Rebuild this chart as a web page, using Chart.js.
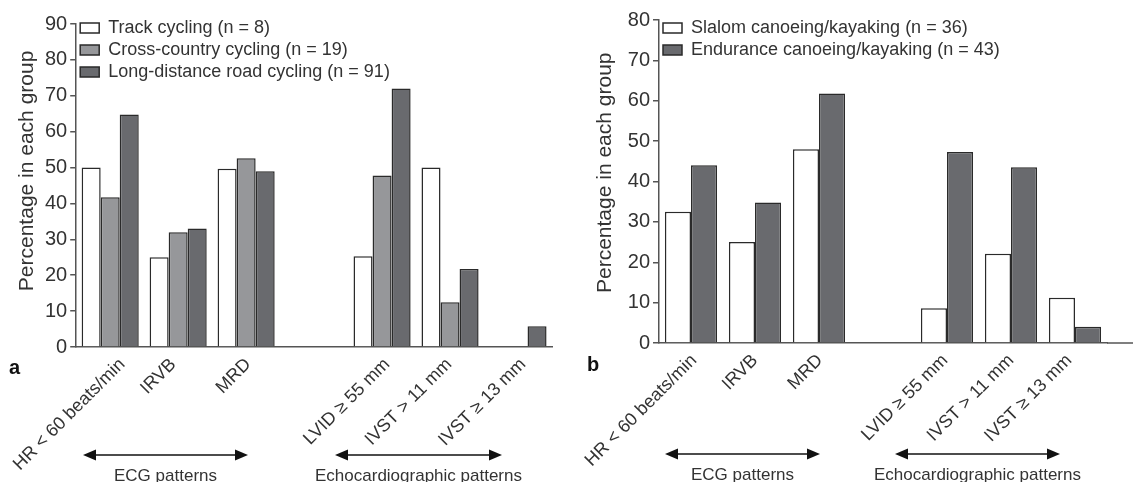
<!DOCTYPE html>
<html>
<head>
<meta charset="utf-8">
<script src="https://cdn.jsdelivr.net/npm/chart.js@4.4.1/dist/chart.umd.min.js"></script>
<style>
  html, body { margin: 0; padding: 0; background: #fff; }
  #wrap { position: relative; width: 1133px; height: 482px; }
  #left { position: absolute; left: 0; top: 0; width: 566px; height: 482px; }
  #right { position: absolute; left: 566px; top: 0; width: 567px; height: 482px; }
</style>
</head>
<body>
<div id="wrap">
  <div id="left"><canvas id="chartA"></canvas></div>
  <div id="right"><canvas id="chartB"></canvas></div>
</div>
<script>
// categorias (la 4a queda vacia como separacion)
const categorias = ["HR < 60 beats/min", "IRVB", "MRD", "", "LVID \u2265 55 mm", "IVST > 11 mm", "IVST \u2265 13 mm"];

// panel a - ciclismo
const pista = [50, 25, 49.7, null, 25.3, 50, 0];
const campoTraves = [41.7, 32, 52.6, null, 47.8, 12.5, 0];
const carretera = [64.8, 33, 49, null, 72, 21.7, 5.8];

// panel b - piragüismo
const eslalon = [32.5, 25, 48, null, 8.6, 22.1, 11.2];
const resistencia = [44, 34.8, 61.8, null, 47.3, 43.5, 4];

// corrimiento horizontal de cada etiqueta del eje x (px), como en la figura original
const corrimientoA = [12, -5, 2, 0, 5, -1, 5];
const corrimientoB = [3, 0, 1, 0, -2, 0, -6];

const fuente = "'Liberation Sans', Arial, Helvetica, sans-serif";
const texto = '#333';
const ejeColor = '#555';

function dataset(label, data, color) {
    return {
        label: label,
        data: data,
        backgroundColor: color,
        borderColor: '#2a2a2a',
        borderWidth: 1.5,
    };
}

// mueve las etiquetas del eje x antes de dibujarlas
function correrEtiquetas(corrimiento) {
    return {
        id: 'correrEtiquetas',
        beforeDraw(chart) {
            const items = chart.scales.x.getLabelItems(chart.chartArea);
            items.forEach(it => {
                if (it._corrido) return;
                const i = categorias.indexOf(it.label);
                if (i >= 0) it.options.translation[0] += corrimiento[i];
                it._corrido = true;
            });
        }
    };
}

// flechas, etiquetas de grupo y letra del panel
function anotaciones(letra, flechas, extender) {
    return {
        id: 'anotaciones',
        afterDraw(chart) {
            const ctx = chart.ctx;
            ctx.save();
            if (extender) {
                ctx.strokeStyle = ejeColor;
                ctx.lineWidth = 1.5;
                ctx.beginPath();
                ctx.moveTo(chart.chartArea.right, chart.chartArea.bottom);
                ctx.lineTo(chart.width, chart.chartArea.bottom);
                ctx.stroke();
            }
            ctx.fillStyle = '#111';
            ctx.font = "bold 20px " + fuente;
            ctx.textBaseline = 'middle';
            ctx.fillText(letra.t, letra.x, letra.y);

            flechas.forEach(f => {
                ctx.strokeStyle = '#111';
                ctx.fillStyle = '#111';
                ctx.lineWidth = 1.6;
                ctx.beginPath();
                ctx.moveTo(f.x1 + 10, f.y);
                ctx.lineTo(f.x2 - 10, f.y);
                ctx.stroke();
                ctx.beginPath();
                ctx.moveTo(f.x1, f.y);
                ctx.lineTo(f.x1 + 13, f.y - 5.5);
                ctx.lineTo(f.x1 + 13, f.y + 5.5);
                ctx.closePath();
                ctx.fill();
                ctx.beginPath();
                ctx.moveTo(f.x2, f.y);
                ctx.lineTo(f.x2 - 13, f.y - 5.5);
                ctx.lineTo(f.x2 - 13, f.y + 5.5);
                ctx.closePath();
                ctx.fill();
                ctx.fillStyle = texto;
                ctx.font = "17px " + fuente;
                ctx.textAlign = 'center';
                ctx.fillText(f.texto, (f.x1 + f.x2) / 2, f.y + 21);
                ctx.textAlign = 'left';
            });
            ctx.restore();
        }
    };
}

function opciones(o) {
    return {
        responsive: false,
        animation: false,
        layout: { padding: { top: o.padTop, right: o.padRight, left: 0, bottom: 0 } },
        plugins: {
            tooltip: { enabled: false },
            legend: {
                position: 'chartArea',
                align: 'start',
                title: { display: true, text: '', font: { size: 10, lineHeight: 1 }, padding: { top: o.leyendaArriba, bottom: 0 } },
                labels: {
                    color: texto,
                    font: { family: fuente, size: 18, lineHeight: 1.2 },
                    boxWidth: 19,
                    boxHeight: 10,
                    padding: 4,
                }
            }
        },
        datasets: { bar: { categoryPercentage: o.catPct, barPercentage: 1.0 } },
        scales: {
            x: {
                grid: { display: false },
                border: { color: ejeColor, width: 1.5 },
                ticks: {
                    color: texto,
                    font: { family: fuente, size: 18 },
                    maxRotation: 45,
                    minRotation: 45,
                    autoSkip: false,
                    padding: -1,
                },
                afterFit(scale) { scale.height = o.altoX; }
            },
            y: {
                min: 0,
                max: o.maximo,
                ticks: {
                    stepSize: 10,
                    color: texto,
                    font: { family: fuente, size: 20 },
                    padding: 3,
                },
                grid: { drawOnChartArea: false, tickLength: 6, color: ejeColor, lineWidth: 1.5 },
                border: { color: ejeColor, width: 1.5 },
                title: {
                    display: true,
                    text: o.titulo,
                    color: texto,
                    font: { family: fuente, size: 21 },
                    padding: o.tituloPad,
                },
                afterFit(scale) { scale.width = o.anchoY; }
            }
        }
    };
}

const $a = document.querySelector('#chartA');
$a.width = 566; $a.height = 482;
new Chart($a, {
    type: 'bar',
    data: {
        labels: categorias,
        datasets: [
            dataset('Track cycling (n = 8)', pista, '#ffffff'),
            dataset('Cross-country cycling (n = 19)', campoTraves, '#96979a'),
            dataset('Long-distance road cycling (n = 91)', carretera, '#696a6e'),
        ]
    },
    options: opciones({
        maximo: 90, anchoY: 76, altoX: 135, catPct: 0.84, padTop: 24, padRight: 14,
        tituloPad: { top: 14, bottom: 0 }, leyendaArriba: 5,
        titulo: '     Percentage in each group'
    }),
    plugins: [correrEtiquetas(corrimientoA), anotaciones({ t: 'a', x: 9, y: 368 }, [
        { x1: 83, x2: 248, y: 455, texto: 'ECG patterns' },
        { x1: 335, x2: 502, y: 455, texto: 'Echocardiographic patterns' },
    ], false)]
});

const $b = document.querySelector('#chartB');
$b.width = 567; $b.height = 482;
new Chart($b, {
    type: 'bar',
    data: {
        labels: categorias,
        datasets: [
            dataset('Slalom canoeing/kayaking (n = 36)', eslalon, '#ffffff'),
            dataset('Endurance canoeing/kayaking (n = 43)', resistencia, '#696a6e'),
        ]
    },
    options: opciones({
        maximo: 80, anchoY: 93, altoX: 139, catPct: 0.815, padTop: 20, padRight: 26,
        tituloPad: { top: 27, bottom: 0 }, leyendaArriba: 5,
        titulo: '   Percentage in each group'
    }),
    plugins: [correrEtiquetas(corrimientoB), anotaciones({ t: 'b', x: 21, y: 365 }, [
        { x1: 99, x2: 254, y: 454, texto: 'ECG patterns' },
        { x1: 329, x2: 494, y: 454, texto: 'Echocardiographic patterns' },
    ], true)]
});
</script>
</body>
</html>
